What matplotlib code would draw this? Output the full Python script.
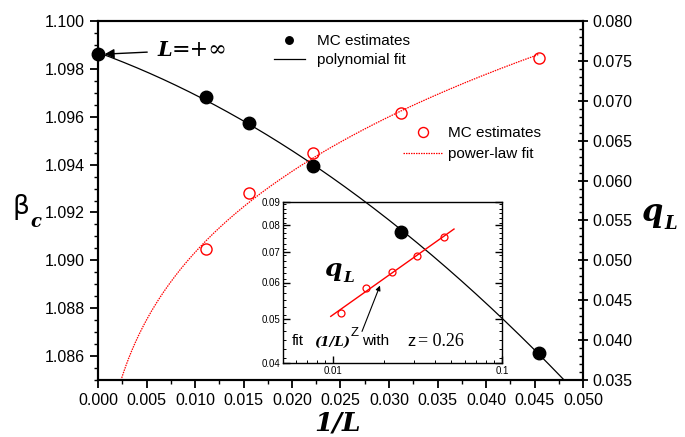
import matplotlib as mpl
import matplotlib.pyplot as plt
import numpy as np
from matplotlib.ticker import FixedLocator, MultipleLocator, NullFormatter

mpl.rcParams["font.family"] = ["Liberation Sans", "DejaVu Sans"]
mpl.rcParams["font.size"] = 10

# Data
inv_L = [0.0, 0.0111, 0.0156, 0.0222, 0.0312, 0.0455]
beta_c = [1.09861, 1.09681, 1.09575, 1.09395, 1.09117, 1.08611]
inv_L_q = [0.0111, 0.0156, 0.0222, 0.0312, 0.0455]
q_L = [0.0514, 0.0585, 0.0634, 0.0685, 0.0753]

W, H = 685, 437


def fx(px):
    return px / W


def fy(py):
    return 1 - py / H


# polynomial fit of beta_c and power-law fit of q_L
poly = np.polyfit(inv_L, beta_c, 2)
slope, icpt = np.polyfit(np.log(inv_L_q), np.log(q_L), 1)

fig = plt.figure(figsize=(W / 100, H / 100), dpi=100)
ax = fig.add_axes([fx(98), fy(380), fx(583) - fx(98), fy(21) - fy(380)])
ax2 = ax.twinx()

xs = np.linspace(0, 0.05, 300)
ax.plot(xs, np.polyval(poly, xs), "k-", lw=0.9, label="polynomial fit")
ax.plot(inv_L, beta_c, "ko", ms=9, ls="none", label="MC estimates", clip_on=False)
ax.set_xlim(0, 0.05)
ax.set_ylim(1.085, 1.100)

xq = np.linspace(0.002, inv_L_q[-1], 300)
ax2.plot(xq, np.exp(icpt) * xq**slope, color="red", ls=(0, (1.2, 0.8)), lw=0.9,
         label="power-law fit")
ax2.plot(inv_L_q, q_L, "o", ms=8, mfc="none", mec="red", mew=1.0, ls="none",
         label="MC estimates")
ax2.set_ylim(0.035, 0.080)

ax.xaxis.set_major_locator(MultipleLocator(0.005))
ax.xaxis.set_minor_locator(MultipleLocator(0.0025))
ax.yaxis.set_major_locator(MultipleLocator(0.002))
ax.yaxis.set_minor_locator(MultipleLocator(0.0005))
ax2.yaxis.set_major_locator(MultipleLocator(0.005))
ax2.yaxis.set_minor_locator(MultipleLocator(0.001))
ax.xaxis.set_major_formatter(mpl.ticker.FormatStrFormatter("%.3f"))
ax.yaxis.set_major_formatter(mpl.ticker.FormatStrFormatter("%.3f"))
ax2.yaxis.set_major_formatter(mpl.ticker.FormatStrFormatter("%.3f"))

ax.tick_params(axis="both", which="major", direction="out", length=6, width=1.3,
               labelsize=11.5, top=False, right=False)
ax.tick_params(axis="both", which="minor", direction="out", length=3, width=1.0)
ax2.tick_params(axis="y", which="major", direction="inout", length=7, width=1.3,
                labelsize=11.5)
ax2.tick_params(axis="y", which="minor", direction="in", length=3, width=1.0)
for a in (ax, ax2):
    for s in a.spines.values():
        s.set_linewidth(1.5)

# legends
leg1 = ax.legend(handles=ax.lines[::-1], loc="upper left",
                 bbox_to_anchor=(fx(274), fy(34)), bbox_transform=fig.transFigure,
                 frameon=False, fontsize=11, borderpad=0, borderaxespad=0,
                 handlelength=2.0, handletextpad=0.8, labelspacing=0.35,
                 markerscale=0.6)
leg2 = ax2.legend(handles=ax2.lines[::-1], loc="upper left",
                  bbox_to_anchor=(fx(403), fy(126)), bbox_transform=fig.transFigure,
                  frameon=False, fontsize=11, borderpad=0, borderaxespad=0,
                  handlelength=2.6, handletextpad=0.35, labelspacing=0.45,
                  markerscale=0.9)

# axis labels
bi = dict(family="DejaVu Serif", weight="bold", style="italic")
fig.text(fx(338), fy(423), "1/L", fontsize=19, ha="center", va="center", **bi)
fig.text(fx(21), fy(207), "β", fontsize=19, ha="center", va="center",
         family="DejaVu Sans")
fig.text(fx(36), fy(222), "c", fontsize=13, ha="center", va="center", **bi)
fig.text(fx(652), fy(212), "q", fontsize=22, ha="center", va="center", **bi)
fig.text(fx(671), fy(224), "L", fontsize=13, ha="center", va="center", **bi)

# L = +inf annotation
ax.annotate("", xy=(0.0004, beta_c[0]), xytext=(fx(150), fy(52)),
            textcoords="figure fraction",
            arrowprops=dict(arrowstyle="-|>", color="black", lw=1.0,
                            mutation_scale=14))
fig.text(fx(157), fy(50), "L", fontsize=15, ha="left", va="center", **bi)
fig.text(fx(172), fy(50), "=+∞", fontsize=16, ha="left", va="center",
         family="DejaVu Serif")

# inset (log-log)
ins = fig.add_axes([fx(283), fy(363), fx(502) - fx(283), fy(202) - fy(363)])
ins.set_xscale("log")
ins.set_yscale("log")
xi = np.logspace(np.log10(0.0097), np.log10(0.052), 50)
ins.plot(xi, np.exp(icpt) * xi**slope, color="red", lw=1.0)
ins.plot(inv_L_q, q_L, "o", ms=5, mfc="none", mec="red", mew=0.9)
ins.set_xlim(0.00506, 0.1)
ins.set_ylim(0.04, 0.09)
ins.xaxis.set_major_locator(FixedLocator([0.01, 0.1]))
ins.xaxis.set_minor_locator(FixedLocator([0.006, 0.007, 0.008, 0.009, 0.02, 0.03,
                                          0.04, 0.05, 0.06, 0.07, 0.08, 0.09]))
ins.xaxis.set_major_formatter(mpl.ticker.FixedFormatter(["0.01", "0.1"]))
ins.xaxis.set_minor_formatter(NullFormatter())
ins.yaxis.set_major_locator(FixedLocator([0.04, 0.05, 0.06, 0.07, 0.08, 0.09]))
ins.yaxis.set_major_formatter(
    mpl.ticker.FixedFormatter(["0.04", "0.05", "0.06", "0.07", "0.08", "0.09"]))
ins.yaxis.set_minor_locator(FixedLocator(np.arange(0.041, 0.0895, 0.002)))
ins.yaxis.set_minor_formatter(NullFormatter())
ins.tick_params(which="both", direction="in", labelsize=7, right=True, pad=2)
ins.tick_params(which="major", length=5, width=1.0)
ins.tick_params(which="minor", length=2.5, width=0.7)
for s in ins.spines.values():
    s.set_linewidth(1.0)
ins.patch.set_alpha(0)

fig.text(fx(333), fy(269), "q", fontsize=18, ha="center", va="center", **bi)
fig.text(fx(349), fy(278), "L", fontsize=11, ha="center", va="center", **bi)
fig.text(fx(292), fy(341), "fit", fontsize=11, ha="left", va="center")
fig.text(fx(314), fy(342), "(1/L)", fontsize=9.5, ha="left", va="center", **bi)
fig.text(fx(351), fy(333), "Z", fontsize=9.5, ha="left", va="center")
fig.text(fx(362), fy(341), "with", fontsize=11, ha="left", va="center")
fig.text(fx(407), fy(341), "z", fontsize=12, ha="left", va="center")
fig.text(fx(418), fy(341), "= 0.26", fontsize=13, ha="left", va="center",
         family="Liberation Serif")
ins.annotate("", xy=(fx(381), fy(283)), xytext=(fx(361), fy(334)),
             xycoords="figure fraction", textcoords="figure fraction",
             arrowprops=dict(arrowstyle="-|>", color="black", lw=0.8,
                             mutation_scale=7))

fig.savefig("out.png", dpi=100)
